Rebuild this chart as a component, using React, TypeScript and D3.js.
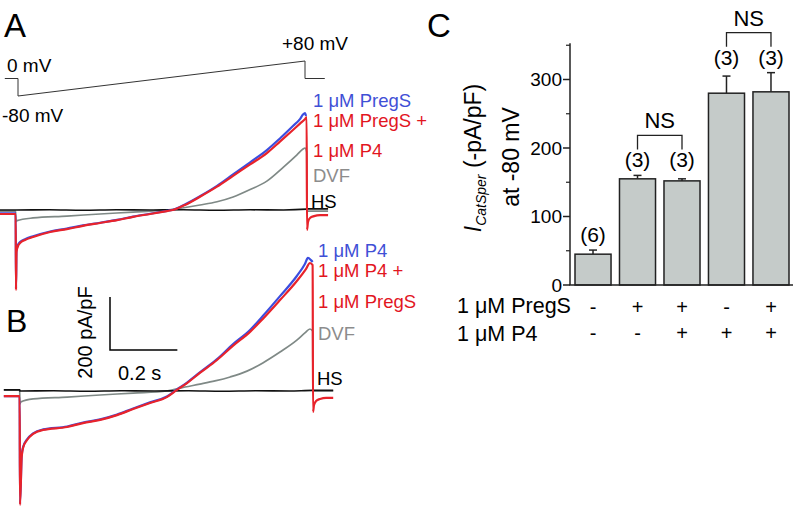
import React from "react";
import * as d3 from "d3";

const FONT = "'Liberation Sans', Arial, Helvetica, sans-serif";

type P = [number, number];

// ---------- Panel A voltage protocol (t in s, V in mV) ----------
const protocol: P[] = [[-0.04, 0], [0, 0], [0, -80], [0.87, 80], [0.87, 0], [0.93, 0]];

// ---------- Panel A traces (t in s, current in pA/pF) ----------
const traceA_HS: P[] = [[-0.048, 0], [-0.001, 0], [0, 0], [0.1, 1], [0.2, -1], [0.3, 1], [0.4, 0], [0.5, 1], [0.6, -1], [0.7, 1], [0.8, 0], [0.869, 3], [0.871, 4], [0.933, 4]];
const traceA_DVF: P[] = [[-0.048, -4], [-0.001, -4], [0, -44], [0.003, -40], [0.051, -30], [0.152, -23], [0.251, -15], [0.35, -8], [0.451, 0], [0.55, 19], [0.601, 31], [0.649, 49], [0.7, 77], [0.75, 109], [0.798, 160], [0.84, 208], [0.858, 230], [0.864, 234], [0.869, 219], [0.870, -4], [0.933, -4]];
const traceA_PregS: P[] = [[-0.048, -13], [-0.001, -13], [0, -295], [0.0015, -152], [0.006, -131], [0.012, -121], [0.027, -110], [0.051, -99], [0.102, -81], [0.152, -70], [0.2, -58], [0.251, -48], [0.302, -37], [0.35, -25], [0.401, -14], [0.451, -3], [0.469, 1], [0.505, 21], [0.55, 52], [0.601, 91], [0.649, 134], [0.7, 180], [0.75, 226], [0.789, 270], [0.828, 317], [0.849, 343], [0.858, 360], [0.864, 366], [0.867, 355]];
const traceA_PregSP4: P[] = [[-0.048, -15], [-0.001, -15], [0, -302], [0.0015, -158], [0.006, -136], [0.012, -125], [0.027, -113], [0.051, -102], [0.102, -83], [0.152, -72], [0.2, -60], [0.251, -49], [0.302, -38], [0.35, -26], [0.401, -15], [0.451, -4], [0.469, 0], [0.505, 19], [0.55, 50], [0.601, 88], [0.649, 129], [0.7, 172], [0.75, 215], [0.789, 258], [0.828, 302], [0.849, 326], [0.864, 343], [0.869, 351], [0.870, -75], [0.873, -45], [0.879, -30], [0.891, -23], [0.909, -19], [0.933, -19]];

// ---------- Panel B traces ----------
const traceB_HS: P[] = [[-0.048, 4], [-0.001, 4], [0, 0], [0.1, 1], [0.2, -1], [0.3, 1], [0.4, 0], [0.5, 1], [0.6, -1], [0.7, 1], [0.8, 0], [0.869, 2], [0.871, 2], [0.93, 2]];
const traceB_DVF: P[] = [[-0.048, 4], [-0.001, 4], [0, -49], [0.0015, -42], [0.039, -30], [0.14, -23], [0.238, -15], [0.336, -8], [0.436, 0], [0.49, 15], [0.534, 26], [0.579, 38], [0.624, 53], [0.674, 75], [0.721, 106], [0.772, 147], [0.822, 192], [0.846, 219], [0.861, 234], [0.869, 226], [0.870, 0], [0.93, 0]];
const traceB_P4: P[] = [[-0.048, -19], [-0.001, -19], [0, -425], [0.005, -245], [0.009, -212], [0.021, -182], [0.039, -160], [0.068, -145], [0.14, -134], [0.187, -119], [0.238, -107], [0.288, -89], [0.336, -66], [0.386, -43], [0.436, -21], [0.466, 6], [0.496, 32], [0.534, 70], [0.585, 120], [0.632, 176], [0.683, 230], [0.721, 283], [0.772, 358], [0.822, 434], [0.846, 479], [0.855, 502], [0.864, 494], [0.869, 487]];
const traceB_P4PregS: P[] = [[-0.048, -19], [-0.001, -19], [0, -430], [0.005, -249], [0.009, -215], [0.021, -185], [0.039, -162], [0.068, -147], [0.14, -136], [0.187, -121], [0.238, -109], [0.288, -91], [0.336, -68], [0.386, -45], [0.436, -23], [0.466, 4], [0.496, 30], [0.534, 68], [0.585, 117], [0.632, 170], [0.683, 223], [0.721, 272], [0.772, 343], [0.822, 415], [0.849, 460], [0.861, 483], [0.869, 475], [0.870, -79], [0.873, -53], [0.879, -38], [0.891, -30], [0.909, -26], [0.93, -26]];

// ---------- Panel labels ----------
const labelsA = ["1 μM PregS", "1 μM PregS +", "1 μM P4", "DVF", "HS"];
const labelsB = ["1 μM P4", "1 μM P4 +", "1 μM PregS", "DVF", "HS"];

// ---------- Panel C data ----------
const barMeans = [45, 155, 152, 280, 282];
const barErrors = [6, 5, 3, 25, 28];
const barCounts = ["(6)", "(3)", "(3)", "(3)", "(3)"];
const pregSSigns = ["-", "+", "+", "-", "+"];
const p4Signs = ["-", "-", "+", "+", "+"];
const yTicksC = [0, 100, 200, 300];
const yMinorTicksC = [50, 150, 250, 350];
const nsPairs: [number, number][] = [[1, 2], [3, 4]];

const BLUE = "#3b4ddf";
const RED = "#e8232b";
const GRAY = "#7f8986";
const LBLUE = "#3f50d6";
const LRED = "#e2161f";
const LGRAY = "#8c8c8c";

export default function App() {
  const xV = d3.scaleLinear().domain([0, 0.87]).range([18, 305]);
  const yV = d3.scaleLinear().domain([-80, 80]).range([96, 61]);
  const xA = d3.scaleLinear().domain([0, 0.87]).range([16, 307]);
  const yA = d3.scaleLinear().domain([0, 200]).range([210, 157]);
  const xB = d3.scaleLinear().domain([0, 0.87]).range([20, 313]);
  const yB = d3.scaleLinear().domain([0, 200]).range([391, 338]);

  const lineV = d3.line<P>().x((d) => xV(d[0])).y((d) => yV(d[1]));
  const lineA = d3.line<P>().x((d) => xA(d[0])).y((d) => yA(d[1])).curve(d3.curveMonotoneX);
  const lineB = d3.line<P>().x((d) => xB(d[0])).y((d) => yB(d[1])).curve(d3.curveMonotoneX);

  const yC = d3.scaleLinear().domain([0, 350]).range([285, 285 - 350 * 0.685]);
  const xC = d3
    .scaleBand<number>()
    .domain(barMeans.map((_, i) => i))
    .range([575, 789])
    .paddingInner(0.19)
    .paddingOuter(0);
  const bw = xC.bandwidth();
  const cx = (i: number) => (xC(i) as number) + bw / 2;

  const groupOf = (i: number) => nsPairs.find((p) => p.includes(i)) || [i, i];
  const countY = (i: number) => {
    const g = groupOf(i);
    const top = Math.max(...g.map((j) => barMeans[j] + barErrors[j]));
    return yC(top) - 8;
  };

  const sbX = 110;
  const sbY = 350;
  const sbW = xB(0.2) - xB(0);
  const sbH = yB(0) - yB(200);

  return (
    <svg
      width={796}
      height={510}
      style={{ position: "absolute", left: 0, top: 0, background: "#fff" }}
      fontFamily={FONT}
    >
      <rect width={796} height={510} fill="#fff" />
      <text x={4} y={37} fontSize={33} fill="#000">A</text>
      <text x={6} y={332} fontSize={32} fill="#000">B</text>
      <text x={427} y={37} fontSize={33} fill="#000">C</text>

      <path d={lineV(protocol) || ""} fill="none" stroke="#333" strokeWidth={1} />
      <text x={7} y={72} fontSize={19}>0 mV</text>
      <text x={282} y={50} fontSize={19}>+80 mV</text>
      <text x={2} y={122} fontSize={19}>-80 mV</text>

      <path d={lineA(traceA_DVF) || ""} fill="none" stroke={GRAY} strokeWidth={1.7} />
      <path d={lineA(traceA_HS) || ""} fill="none" stroke="#111" strokeWidth={1.7} />
      <path d={lineA(traceA_PregS) || ""} fill="none" stroke={BLUE} strokeWidth={2.2} />
      <path d={lineA(traceA_PregSP4) || ""} fill="none" stroke={RED} strokeWidth={2.2} />

      <g fontSize={18.5}>
        <text x={313} y={107} fill={LBLUE}>{labelsA[0]}</text>
        <text x={313} y={127} fill={LRED}>{labelsA[1]}</text>
        <text x={313} y={157} fill={LRED}>{labelsA[2]}</text>
        <text x={313} y={182} fill={LGRAY}>{labelsA[3]}</text>
        <text x={311} y={208} fill="#000">{labelsA[4]}</text>
      </g>

      <path d={lineB(traceB_DVF) || ""} fill="none" stroke={GRAY} strokeWidth={1.7} />
      <path d={lineB(traceB_HS) || ""} fill="none" stroke="#111" strokeWidth={1.7} />
      <path d={lineB(traceB_P4) || ""} fill="none" stroke={BLUE} strokeWidth={2.2} />
      <path d={lineB(traceB_P4PregS) || ""} fill="none" stroke={RED} strokeWidth={2.2} />

      <g fontSize={18.5}>
        <text x={318} y={257} fill={LBLUE}>{labelsB[0]}</text>
        <text x={318} y={277} fill={LRED}>{labelsB[1]}</text>
        <text x={318} y={308} fill={LRED}>{labelsB[2]}</text>
        <text x={318} y={340} fill={LGRAY}>{labelsB[3]}</text>
        <text x={317} y={385} fill="#000">{labelsB[4]}</text>
      </g>

      <path
        d={`M${sbX},${sbY - sbH}V${sbY}H${sbX + sbW}`}
        fill="none"
        stroke="#000"
        strokeWidth={1.5}
      />
      <text
        transform={`translate(92,${sbY - sbH / 2 + 9}) rotate(-90)`}
        textAnchor="middle"
        fontSize={20}
      >
        200 pA/pF
      </text>
      <text x={sbX + sbW / 2 - 4} y={380} textAnchor="middle" fontSize={20}>0.2 s</text>

      {barMeans.map((v, i) => (
        <g key={i}>
          <line x1={cx(i)} x2={cx(i)} y1={yC(v)} y2={yC(v + barErrors[i])} stroke="#222" strokeWidth={1.5} />
          <line
            x1={cx(i) - 4}
            x2={cx(i) + 4}
            y1={yC(v + barErrors[i])}
            y2={yC(v + barErrors[i])}
            stroke="#222"
            strokeWidth={1.5}
          />
          <rect
            x={xC(i)}
            y={yC(v)}
            width={bw}
            height={yC(0) - yC(v)}
            fill="#c5cbc9"
            stroke="#222"
            strokeWidth={1.5}
          />
          <text x={cx(i)} y={countY(i)} textAnchor="middle" fontSize={21}>
            {barCounts[i]}
          </text>
          <text x={cx(i)} y={314} textAnchor="middle" fontSize={20}>
            {pregSSigns[i]}
          </text>
          <text x={cx(i)} y={340} textAnchor="middle" fontSize={20}>
            {p4Signs[i]}
          </text>
        </g>
      ))}

      {nsPairs.map(([a, b], k) => {
        const base = countY(a) - 18;
        const top = base - 14;
        return (
          <g key={k}>
            <path
              d={`M${cx(a)},${base}V${top}H${cx(b)}V${base}`}
              fill="none"
              stroke="#222"
              strokeWidth={1.3}
            />
            <text x={(cx(a) + cx(b)) / 2} y={top - 7} textAnchor="middle" fontSize={22}>
              NS
            </text>
          </g>
        );
      })}

      <line x1={570} x2={570} y1={yC(0)} y2={yC(350) - 2} stroke="#222" strokeWidth={1.5} />
      <line x1={569.25} x2={793} y1={yC(0)} y2={yC(0)} stroke="#222" strokeWidth={1.5} />
      {yTicksC.map((t) => (
        <g key={t}>
          <line x1={563} x2={570} y1={yC(t)} y2={yC(t)} stroke="#222" strokeWidth={1.5} />
          <text x={562} y={yC(t) + 6.5} textAnchor="end" fontSize={19}>
            {t}
          </text>
        </g>
      ))}
      {yMinorTicksC.map((t) => (
        <line key={t} x1={566} x2={570} y1={yC(t)} y2={yC(t)} stroke="#222" strokeWidth={1.2} />
      ))}

      <text transform="translate(481,158) rotate(-90)" textAnchor="middle" fontSize={23}>
        <tspan fontStyle="italic">I</tspan>
        <tspan fontSize={14} fontStyle="italic" dy={5}>CatSper</tspan>
        <tspan dy={-5}> (-pA/pF)</tspan>
      </text>
      <text transform="translate(519,157) rotate(-90)" textAnchor="middle" fontSize={23}>
        at -80 mV
      </text>

      <text x={457} y={313} fontSize={21.5}>1 μM PregS</text>
      <text x={457} y={341} fontSize={21.5}>1 μM P4</text>
    </svg>
  );
}
